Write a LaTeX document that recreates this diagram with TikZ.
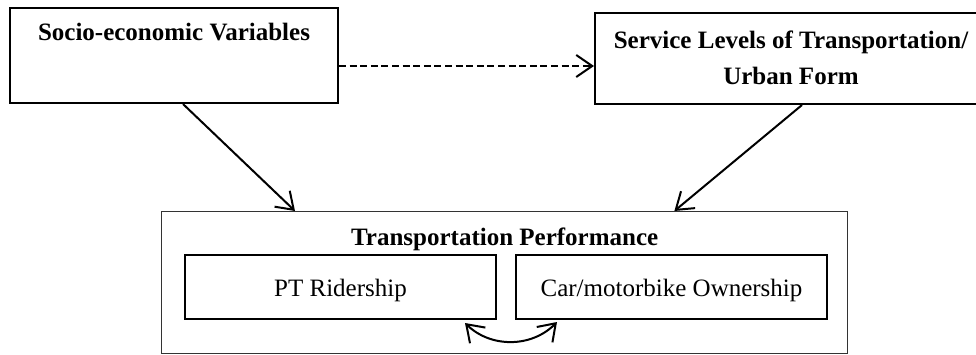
\documentclass[tikz,border=0pt]{standalone}
\usepackage{fontspec}
\setmainfont{Liberation Serif}
\usetikzlibrary{positioning}
\usetikzlibrary{arrows.meta}

\begin{document}
\begin{tikzpicture} [x=0.5pt, y=-0.5pt, line width=1pt,
        >={Straight Barb[length=8pt, width=11pt]},
        main/.style = {draw, rectangle, inner sep=0pt},
        perfbox/.style = {draw=black!80, line width=0.7pt, rectangle, inner sep=0pt},
        headtxt/.style = {inner sep=0pt, align=center, font=\fontsize{12.5}{18.3}\selectfont\bfseries},
        partbox/.style = {main, minimum width=155.5pt, minimum height=32pt, text height=12.3pt, text depth=2.7pt, font=\fontsize{12.5}{15}\selectfont}]

        \useasboundingbox (0,0) rectangle (976,354);

        %Boxes
        \node[main, anchor=north west, minimum width=164pt, minimum height=47.5pt] (socio) at (9,7) {};
        \node[headtxt] (sociotxt) [below = 7.7pt of socio.north] {Socio-economic Variables};

        \node[main, anchor=north west, minimum width=196pt, minimum height=45.5pt] (service) at (594,12) {};
        \node[headtxt] (servicetxt) [below = 8.8pt of service.north] {Service Levels of Transportation/\\Urban Form};

        \node[perfbox, anchor=north west, minimum width=343pt, minimum height=71pt] (perf) at (161,211) {};
        \node[headtxt] (perftxt) [below = 7.7pt of perf.north] {Transportation Performance};

        \node[partbox] (pt) [below right = 21.5pt and 11.5pt of perf.north west] {PT Ridership};
        \node[partbox] (car) [right = 9pt of pt] {Car/motorbike Ownership};

        %Arrows
        \draw[->, dash pattern=on 3.5pt off 1.8pt] ([yshift=-5.25pt]socio.east) -- ([yshift=-5.25pt]socio.east -| service.west);

        \draw[->] ([xshift=87pt]socio.south west) -- ([xshift=67pt]perf.north west);
        \draw[->] ([xshift=104pt]service.south west) -- ([xshift=-87pt]perf.north east);

        \draw[<->] ([shift={(-16pt,-1.5pt)}]pt.south east) to[bend right=45] ([shift={(21pt,-1pt)}]car.south west);

\end{tikzpicture}
\end{document}
